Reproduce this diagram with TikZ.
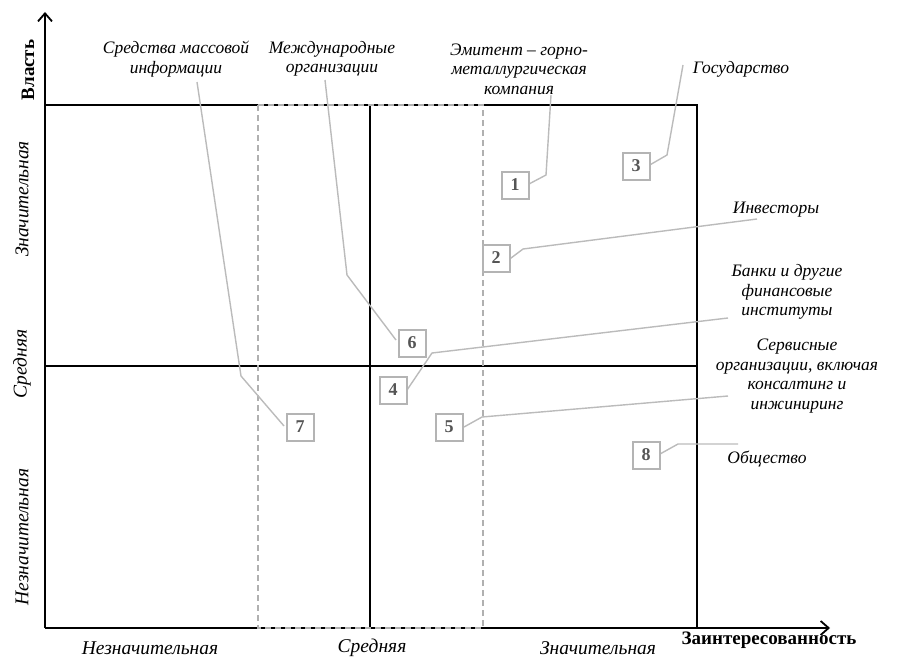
\documentclass[tikz,border=0pt]{standalone}
\usepackage{fontspec}
\setmainfont{Liberation Serif}
\usetikzlibrary{arrows.meta}
\definecolor{boxgray}{HTML}{B4B4B4}
\definecolor{numgray}{HTML}{555555}
\definecolor{leadgray}{HTML}{BBBBBB}
\definecolor{dashgray}{HTML}{B0B0B0}
\begin{document}
\begin{tikzpicture}[x=1pt,y=-1pt,
  lbl/.style={font=\fontsize{17.5}{19.5}\selectfont\itshape, align=center, inner sep=0pt},
  cat/.style={font=\fontsize{19.5}{20}\selectfont\itshape, inner sep=0pt},
  num/.style={draw=boxgray, line width=2pt, minimum size=27pt, inner sep=0pt, fill=white,
              text=numgray, font=\fontsize{18}{18}\selectfont\bfseries},
  lead/.style={draw=leadgray, line width=1.4pt},
  frame/.style={line width=1.4pt},
  axis/.style={line width=1.6pt, -{Straight Barb[length=8pt,width=14pt,line width=1.8pt]}},
  axlbl/.style={font=\fontsize{19}{19}\selectfont\bfseries, inner sep=0pt}
]
\useasboundingbox (0,0) rectangle (907,661);

% frame
\draw[frame] (45,105) -- (697,105) -- (697,628);
\draw[frame] (370,105) -- (370,628);
\draw[frame] (45,366) -- (697,366);
% axes
\coordinate (O) at (45,628);
\coordinate (Ytip) at (45,12);
\coordinate (Xtip) at (830,628);
\draw[axis] (O) -- (Ytip);
\draw[axis] (O) -- (Xtip);
% dashed zone
\draw[dashgray, line width=2pt, dash pattern=on 6pt off 4pt] (258,105) rectangle (483,628);

% axis labels
\node[axlbl, rotate=90] (vl) at (28,70) {Власть};
\node[axlbl] (zi) at (769,640) {Заинтересованность};
\node[cat, rotate=90] (ly1) at (22,199) {Значительная};
\node[cat, rotate=90] (ly2) at (22,364) {Средняя};
\node[cat, rotate=90] (ly3) at (22,537) {Незначительная};
\node[cat] (lx1) at (150,648) {Незначительная};
\node[cat] (lx2) at (372,648) {Средняя};
\node[cat] (lx3) at (598,648) {Значительная};

% stakeholder labels
\node[lbl] (smi) at (176,59) {Средства массовой\\информации};
\node[lbl] (mo) at (332,59) {Международные\\организации};
\node[lbl] (em) at (519,69) {Эмитент – горно-\\металлургическая\\компания};
\node[lbl] (gos) at (741,69) {Государство};
\node[lbl] (inv) at (776,210) {Инвесторы};
\node[lbl] (bank) at (787,292) {Банки и другие\\финансовые\\институты};
\node[lbl] (serv) at (797,376) {Сервисные\\организации, включая\\консалтинг и\\инжиниринг};
\node[lbl] (obsh) at (767,459) {Общество};

% leader end points
\coordinate (e1) at (551,95);
\coordinate (e3) at (683,65);
\coordinate (e2) at (757,219);
\coordinate (e6) at (325,80);
\coordinate (e4) at (728,318);
\coordinate (e5) at (728,396);
\coordinate (e7) at (197,82);
\coordinate (e8) at (738,444);

% leaders
\draw[lead] (529,184) -- (546,175) -- (e1);
\draw[lead] (648,166) -- (667,155) -- (e3);
\draw[lead] (507,261) -- (523,249) -- (e2);
\draw[lead] (396,340) -- (347,275) -- (e6);
\draw[lead] (407,390) -- (432,353) -- (e4);
\draw[lead] (464,427) -- (482,417) -- (e5);
\draw[lead] (284,426) -- (241,376) -- (e7);
\draw[lead] (660,454) -- (678,444) -- (e8);

% numbered boxes
\node[num] (n1) at (515,185) {1};
\node[num] (n2) at (496,258) {2};
\node[num] (n3) at (636,166) {3};
\node[num] (n4) at (393,390) {4};
\node[num] (n5) at (449,427) {5};
\node[num] (n6) at (412,343) {6};
\node[num] (n7) at (300,427) {7};
\node[num] (n8) at (646,455) {8};
\end{tikzpicture}
\end{document}
